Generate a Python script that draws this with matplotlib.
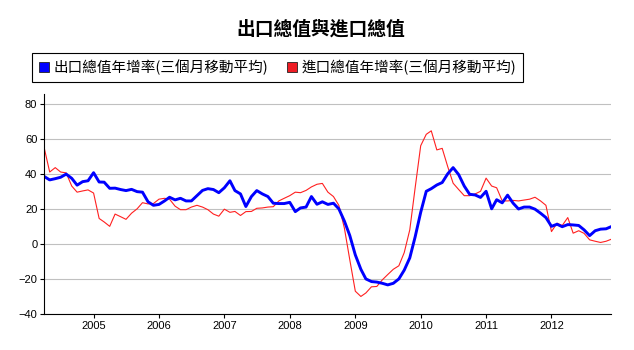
import matplotlib
matplotlib.use("Agg")
import matplotlib.pyplot as plt
import matplotlib.dates as mdates
from matplotlib.patches import Patch
import pandas as pd

# monthly, Apr 2004 - Dec 2012
months = pd.date_range("2004-04-01", periods=105, freq="MS")

export_yoy = [
    38.4, 36.5, 37.2, 38.0, 39.8, 37.4, 33.5, 35.5, 36.0, 40.6,
    35.3, 35.2, 31.7, 31.8, 31.0, 30.4, 31.1, 29.8, 29.5, 24.0,
    22.0, 22.5, 24.5, 26.6, 25.1, 26.0, 24.5, 24.5, 27.5, 30.5,
    31.5, 31.0, 29.2, 32.0, 36.0, 30.4, 28.5, 21.3, 27.0, 30.4,
    28.5, 27.0, 23.2, 23.0, 23.0, 23.7, 18.4, 20.5, 21.0, 27.0,
    22.6, 24.0, 22.5, 23.2, 20.0, 13.0, 4.8, -6.3, -14.5, -20.0,
    -21.5, -21.8, -22.5, -23.4, -22.5, -20.0, -15.0, -8.0, 4.0, 18.0,
    30.0, 31.5, 33.6, 35.0, 40.0, 43.5, 39.5, 33.0, 28.3, 27.9,
    26.5, 30.0, 20.0, 25.2, 23.4, 27.8, 23.2, 19.9, 21.0, 21.0,
    19.8, 17.5, 15.0, 10.0, 11.2, 9.8, 11.0, 10.8, 10.5, 8.0,
    4.7, 7.5, 8.4, 8.6, 9.9,
]

import_yoy = [
    54.5, 41.0, 43.5, 41.0, 40.5, 33.0, 29.5, 30.2, 30.8, 29.0,
    14.5, 12.5, 10.0, 17.0, 15.5, 14.0, 17.5, 20.0, 23.5, 22.8,
    23.0, 25.5, 26.0, 25.5, 21.5, 19.5, 19.5, 21.0, 22.0, 21.0,
    19.5, 17.0, 15.8, 19.8, 18.0, 18.5, 16.2, 18.4, 18.5, 20.3,
    20.5, 21.0, 21.2, 24.5, 26.0, 27.5, 29.5, 29.2, 30.5, 32.5,
    34.0, 34.5, 29.5, 27.0, 22.0, 9.0, -9.0, -27.0, -30.0, -28.0,
    -24.5, -24.3, -20.5, -17.5, -14.5, -12.5, -5.0, 8.0, 32.0, 56.0,
    62.5, 64.5, 53.6, 54.5, 44.0, 34.6, 31.0, 27.5, 27.5, 28.5,
    30.0, 37.5, 33.0, 32.0, 24.5, 24.5, 24.8, 24.5, 25.0, 25.5,
    26.6, 24.5, 22.0, 7.0, 11.8, 10.5, 15.0, 6.1, 7.5, 6.0,
    2.3, 1.5, 0.8, 1.5, 2.7,
]

cjk = ["Noto Sans CJK TC", "DejaVu Sans"]
labels = ["出口總值年增率(三個月移動平均)", "進口總值年增率(三個月移動平均)"]

fig = plt.figure(figsize=(6.34, 3.5), dpi=100)
ax = fig.add_axes([0.0699, 0.1029, 0.8946, 0.6285])

ax.plot(months, import_yoy, color="#ff2020", lw=0.8)
ax.plot(months, export_yoy, color="#0000ff", lw=2.1)

ax.set_xlim(months[0], months[-1])
ax.set_ylim(-40, 85.5)
ax.set_yticks(range(-40, 81, 20))
ax.yaxis.grid(True, color="#c0c0c0", lw=0.8)
ax.set_axisbelow(True)

ax.xaxis.set_major_locator(mdates.YearLocator())
ax.xaxis.set_major_formatter(mdates.DateFormatter("%Y"))

for s in ["top", "right"]:
    ax.spines[s].set_visible(False)
for s in ["left", "bottom"]:
    ax.spines[s].set_linewidth(0.8)
ax.tick_params(length=3, width=0.8, labelsize=8, pad=2)
for t in ax.get_xticklabels() + ax.get_yticklabels():
    t.set_fontfamily("Liberation Sans")

fig.text(0.506, 0.918, "出口總值與進口總值", ha="center", va="center",
         fontsize=13.5, fontweight="bold", family=cjk)

handles = [Patch(facecolor="#0000ff", edgecolor="#222222", lw=0.6),
           Patch(facecolor="#ee1c24", edgecolor="#222222", lw=0.6)]
leg = fig.legend(handles, labels, loc="upper left",
                 bbox_to_anchor=(32.3 / 634, 1 - 53.3 / 350),
                 ncol=2, frameon=True, fancybox=False, framealpha=1,
                 edgecolor="black", handlelength=0.7, handleheight=0.7,
                 handletextpad=0.3, columnspacing=1.3, borderpad=0.45,
                 borderaxespad=0, prop={"family": cjk, "size": 10.5})
leg.get_frame().set_linewidth(0.8)

fig.savefig("out.png", dpi=100)
